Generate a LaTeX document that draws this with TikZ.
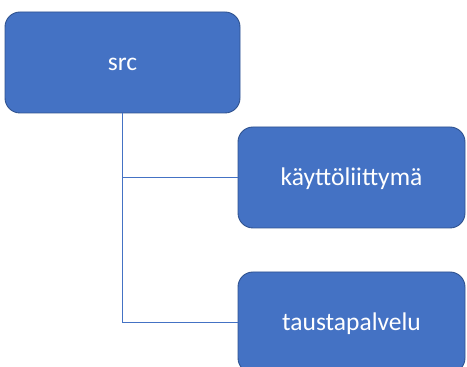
\documentclass[tikz,border=0pt]{standalone}
\usepackage{fontspec}
\setmainfont{Carlito}
\definecolor{boxfill}{HTML}{4472C4}
\definecolor{boxedge}{HTML}{2F528F}
\definecolor{linkline}{HTML}{4472C4}
\begin{document}
\begin{tikzpicture}[x=1pt,y=1pt,
  folder/.style={draw=boxedge, line width=0.9pt, fill=boxfill, rounded corners=15pt,
    inner sep=0pt, text=white, text height=18pt, text depth=1pt,
    font=\fontsize{25.5}{30}\selectfont},
  link/.style={draw=linkline, line width=1pt}]
  \useasboundingbox (0,0) rectangle (467,367);
  \clip (0,0) rectangle (467,367);
  \node[folder, minimum width=235pt, minimum height=101pt] (src) at (122.5,304.5) {src};
  \node[folder, minimum width=227pt, minimum height=101pt] (ui) at (351.5,189.5) {käyttöliittymä};
  \node[folder, minimum width=227pt, minimum height=101pt] (backend) at (351.5,44.5) {taustapalvelu};
  \draw[link] (src.south) |- (backend.west);
  \draw[link] (src.south |- ui.west) -- (ui.west);
\end{tikzpicture}
\end{document}
